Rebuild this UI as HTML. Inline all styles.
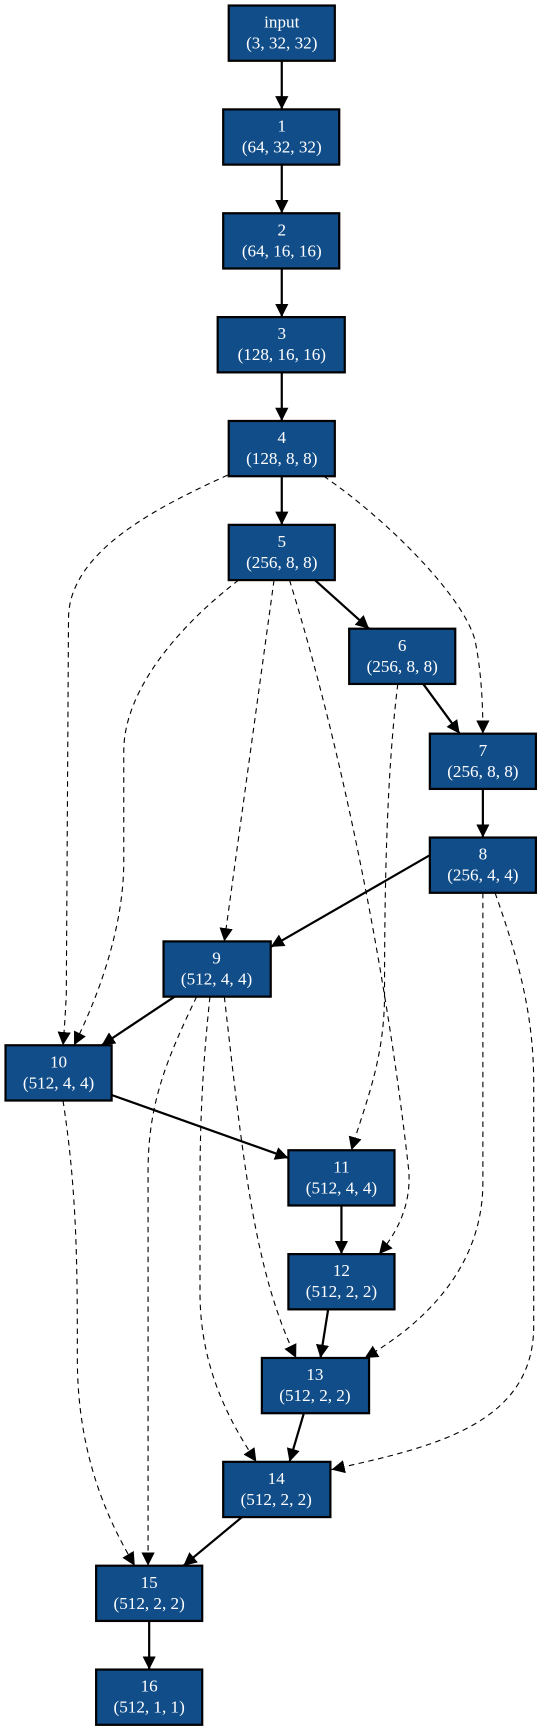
<!DOCTYPE html>
<html><head><meta charset="utf-8"><style>
html,body{margin:0;padding:0;background:#fff;}
svg{display:block;}
text{font-family:"Liberation Serif",serif;font-size:15.5px;fill:#fff;text-anchor:middle;}
</style></head><body>
<svg width="541" height="1731" viewBox="0 0 489.6 1566.6" preserveAspectRatio="none" xmlns="http://www.w3.org/2000/svg">
<defs>
<marker id="a" markerUnits="userSpaceOnUse" markerWidth="12" markerHeight="12" refX="10" refY="5" orient="auto" viewBox="0 0 10 10"><path d="M0,0 L10,5 L0,10 z" fill="#000"/></marker>
</defs>
<g fill="none" stroke="#000" stroke-width="1" stroke-dasharray="5,4" marker-end="url(#a)">
<path d="M206,430 C140,460 62,500 62,560 L60,900 C59,920 58,935 57,946"/>
<path d="M293,431 C350,470 420,540 430,580 C436,610 437,640 437,664"/>
<path d="M216,525 C170,560 112,620 112,680 L112,780 C112,850 80,920 67,946"/>
<path d="M248,525 L203,852"/>
<path d="M262,525 C310,680 350,880 370,1060 C372,1090 360,1115 343,1135"/>
<path d="M360,619 C350,700 348,800 348,900 C348,960 330,1000 318,1041"/>
<path d="M437,808 L437,1070 C437,1150 380,1200 330,1229"/>
<path d="M448,808 C470,870 483,920 483,980 L483,1200 C483,1290 390,1310 300,1330"/>
<path d="M203,902 C220,1050 230,1150 268,1229"/>
<path d="M190,902 C185,950 181,1000 181,1070 L181,1170 C181,1240 210,1290 232,1323"/>
<path d="M178,902 C150,960 134,1000 134,1060 L134,1417"/>
<path d="M57,996 C70,1080 70,1150 70,1230 C70,1320 100,1380 122,1417"/>
</g>
<g fill="none" stroke="#000" stroke-width="2" marker-end="url(#a)">
<path d="M255,55 L255,99"/>
<path d="M255,149 L255,193"/>
<path d="M255,243 L255,287"/>
<path d="M255,337 L255,381"/>
<path d="M255,431 L255,475"/>
<path d="M285,525 L334,569"/>
<path d="M383,619 L416,664"/>
<path d="M437,714 L437,758"/>
<path d="M389,774 L245,857"/>
<path d="M158,902 L92,946"/>
<path d="M101,991 L261,1048"/>
<path d="M309,1091 L309,1135"/>
<path d="M297,1185 L290,1229"/>
<path d="M275,1279 L262,1323"/>
<path d="M219,1373 L166,1417"/>
<path d="M135,1467 L135,1511"/>
</g>
<g fill="#114d89" stroke="#000" stroke-width="2">
<rect x="207" y="5" width="96" height="50"/>
<rect x="202" y="99" width="105" height="50"/>
<rect x="202" y="193" width="105" height="50"/>
<rect x="197" y="287" width="115" height="50"/>
<rect x="207" y="381" width="96" height="50"/>
<rect x="207" y="475" width="96" height="50"/>
<rect x="316" y="569" width="96" height="50"/>
<rect x="389" y="664" width="96" height="50"/>
<rect x="389" y="758" width="96" height="50"/>
<rect x="148" y="852" width="97" height="50"/>
<rect x="5" y="946" width="96" height="50"/>
<rect x="261" y="1041" width="96" height="50"/>
<rect x="261" y="1135" width="96" height="50"/>
<rect x="237" y="1229" width="97" height="50"/>
<rect x="202" y="1323" width="97" height="50"/>
<rect x="87" y="1417" width="96" height="50"/>
<rect x="87" y="1511" width="96" height="50"/>
</g>
<text x="255" y="25">input</text><text x="255" y="44">(3, 32, 32)</text>
<text x="255" y="119">1</text><text x="255" y="138">(64, 32, 32)</text>
<text x="255" y="213">2</text><text x="255" y="232">(64, 16, 16)</text>
<text x="255" y="307">3</text><text x="255" y="326">(128, 16, 16)</text>
<text x="255" y="401">4</text><text x="255" y="420">(128, 8, 8)</text>
<text x="255" y="495">5</text><text x="255" y="514">(256, 8, 8)</text>
<text x="364" y="589">6</text><text x="364" y="608">(256, 8, 8)</text>
<text x="437" y="684">7</text><text x="437" y="703">(256, 8, 8)</text>
<text x="437" y="778">8</text><text x="437" y="797">(256, 4, 4)</text>
<text x="196" y="872">9</text><text x="196" y="891">(512, 4, 4)</text>
<text x="53" y="966">10</text><text x="53" y="985">(512, 4, 4)</text>
<text x="309" y="1061">11</text><text x="309" y="1080">(512, 4, 4)</text>
<text x="309" y="1155">12</text><text x="309" y="1174">(512, 2, 2)</text>
<text x="285" y="1249">13</text><text x="285" y="1268">(512, 2, 2)</text>
<text x="250" y="1343">14</text><text x="250" y="1362">(512, 2, 2)</text>
<text x="135" y="1437">15</text><text x="135" y="1456">(512, 2, 2)</text>
<text x="135" y="1531">16</text><text x="135" y="1550">(512, 1, 1)</text>
</svg>
</body></html>
